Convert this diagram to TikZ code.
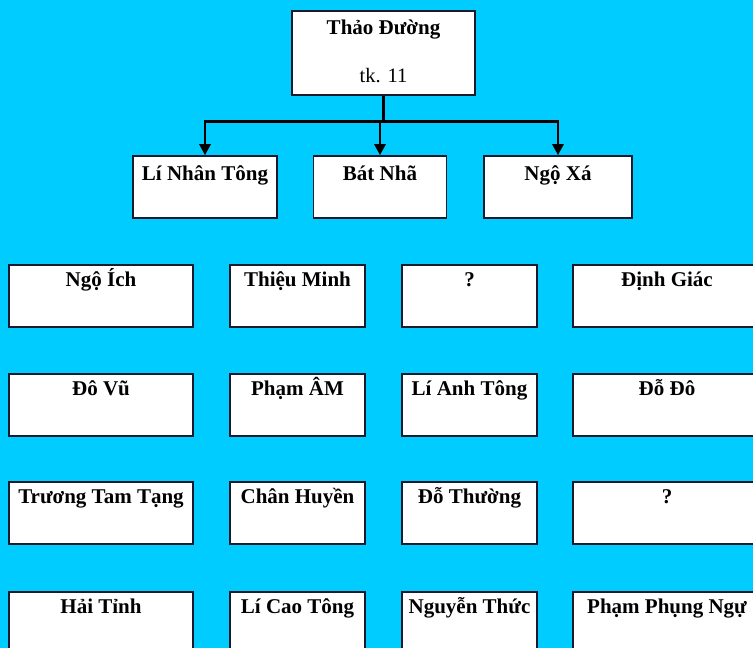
\documentclass[tikz,border=0pt]{standalone}
\usepackage{fontspec}
\setmainfont{Liberation Serif}
\usetikzlibrary{arrows.meta}
\definecolor{bgcyan}{HTML}{00CCFF}
\definecolor{boxline}{HTML}{1A1A2E}
\tikzset{
  box/.style={draw=boxline, line width=1.6pt, fill=white, inner sep=0pt},
  txt/.style={font=\fontsize{21}{23}\selectfont\bfseries, inner sep=0pt, anchor=base},
  arr/.style={line width=2.8pt, -{Triangle[length=11pt,width=11pt]}},
}
\begin{document}
\begin{tikzpicture}[x=1pt,y=-1pt]
\path[use as bounding box, clip] (0,0) rectangle (753,648);
\fill[bgcyan] (0,0) rectangle (753,648);
% top
\node[box, minimum width=183pt, minimum height=84pt,
  label={[txt, yshift=-24pt]north:Thảo Đường},
  label={[font=\fontsize{20.5}{22}\selectfont, inner sep=0pt, anchor=base, yshift=-72pt]north:tk. 11}] (top) at (383.5,53) {};
% level 2
\node[box, minimum width=144pt, minimum height=62pt, label={[txt, yshift=-25pt]north:Lí Nhân Tông}] (b1) at (205,187) {};
\node[box, minimum width=133pt, minimum height=62pt, label={[txt, yshift=-25pt]north:Bát Nhã}] (b2) at (380,187) {};
\node[box, minimum width=148pt, minimum height=62pt, label={[txt, yshift=-25pt]north:Ngộ Xá}] (b3) at (558,187) {};
\draw[arr] (top.south) -- ++(0,26) -| (b1.north);
\draw[arr] (top.south) -- ++(0,26) -| (b2.north);
\draw[arr] (top.south) -- ++(0,26) -| (b3.north);
% grid
\foreach \r/\cy/\a/\b/\c/\d in {
  1/296/Ngộ Ích/Thiệu Minh/?/Định Giác,
  2/405/Đô Vũ/Phạm ÂM/Lí Anh Tông/Đỗ Đô,
  3/513/Trương Tam Tạng/Chân Huyền/Đỗ Thường/?,
  4/623/Hải Tỉnh/Lí Cao Tông/Nguyễn Thức/Phạm Phụng Ngự}{
  \node[box, minimum width=184pt, minimum height=62pt, label={[txt, yshift=-22.5pt]north:\a}] (r\r c1) at (101,\cy) {};
  \node[box, minimum width=135pt, minimum height=62pt, label={[txt, yshift=-22.5pt]north:\b}] (r\r c2) at (297.5,\cy) {};
  \node[box, minimum width=135pt, minimum height=62pt, label={[txt, yshift=-22.5pt]north:\c}] (r\r c3) at (469.5,\cy) {};
  \node[box, minimum width=188pt, minimum height=62pt, label={[txt, yshift=-22.5pt]north:\d}] (r\r c4) at (667,\cy) {};
}
\end{tikzpicture}
\end{document}
